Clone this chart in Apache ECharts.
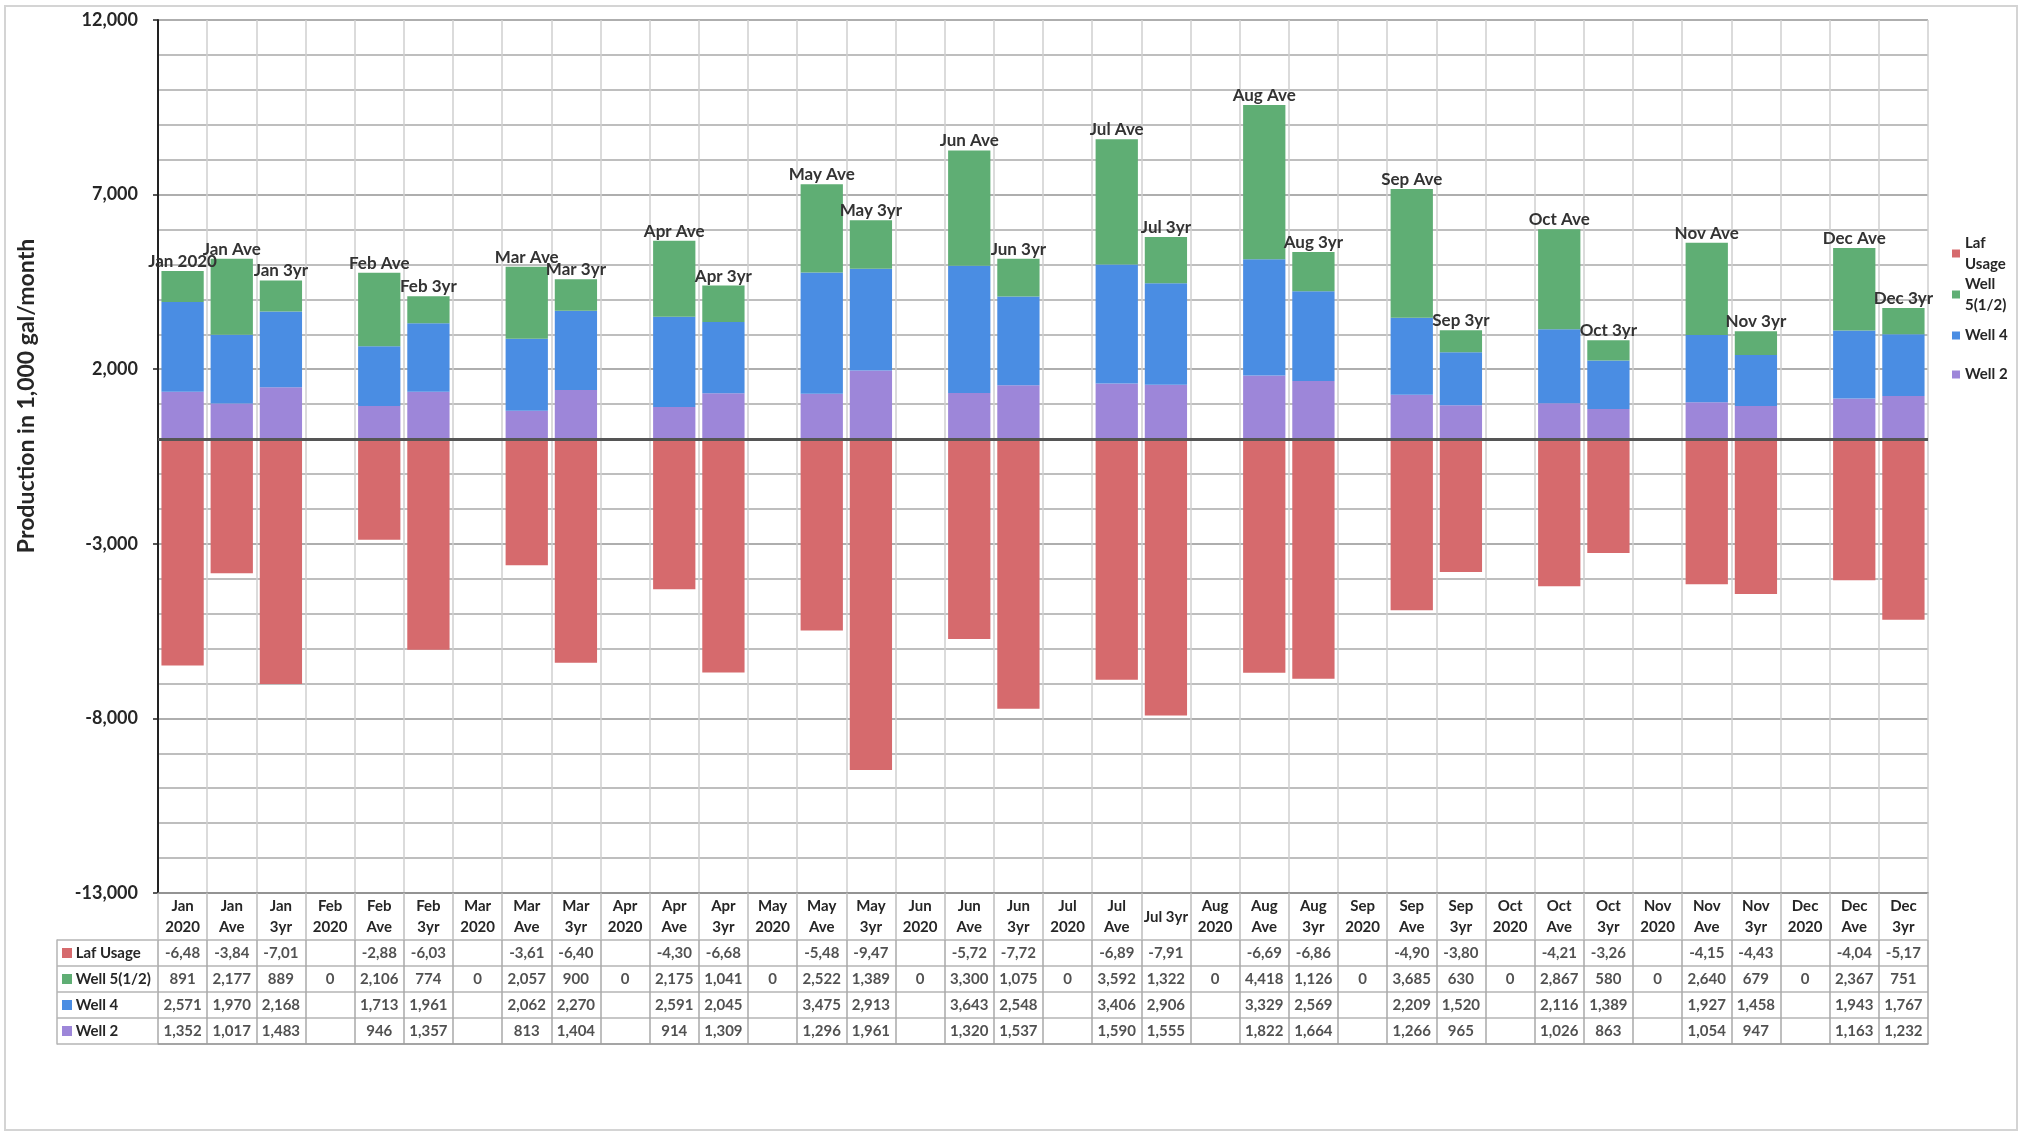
<!DOCTYPE html>
<html><head><meta charset="utf-8">
<script src="https://cdn.jsdelivr.net/npm/echarts@6.0.0/dist/echarts.min.js"></script>
<style>html,body{margin:0;padding:0;background:#fff}#c{width:2022px;height:1134px}</style>
</head><body><div id="c"></div>
<script>
const categories = ['Jan 2020','Jan Ave','Jan 3yr','Feb 2020','Feb Ave','Feb 3yr','Mar 2020','Mar Ave','Mar 3yr',
  'Apr 2020','Apr Ave','Apr 3yr','May 2020','May Ave','May 3yr','Jun 2020','Jun Ave','Jun 3yr',
  'Jul 2020','Jul Ave','Jul 3yr','Aug 2020','Aug Ave','Aug 3yr','Sep 2020','Sep Ave','Sep 3yr',
  'Oct 2020','Oct Ave','Oct 3yr','Nov 2020','Nov Ave','Nov 3yr','Dec 2020','Dec Ave','Dec 3yr'];
const headerLabels = ['Jan\n2020','Jan\nAve','Jan\n3yr','Feb\n2020','Feb\nAve','Feb\n3yr','Mar\n2020','Mar\nAve','Mar\n3yr',
  'Apr\n2020','Apr\nAve','Apr\n3yr','May\n2020','May\nAve','May\n3yr','Jun\n2020','Jun\nAve','Jun\n3yr',
  'Jul\n2020','Jul\nAve','Jul 3yr','Aug\n2020','Aug\nAve','Aug\n3yr','Sep\n2020','Sep\nAve','Sep\n3yr',
  'Oct\n2020','Oct\nAve','Oct\n3yr','Nov\n2020','Nov\nAve','Nov\n3yr','Dec\n2020','Dec\nAve','Dec\n3yr'];
const lafUsage = [-6485,-3845,-7015, null,-2885,-6035, null,-3615,-6405, null,-4305,-6685,
  null,-5485,-9475, null,-5725,-7725, null,-6895,-7915, null,-6695,-6865,
  null,-4905,-3805, null,-4215,-3265, null,-4155,-4435, null,-4045,-5175];
const well5 = [891,2177,889, 0,2106,774, 0,2057,900, 0,2175,1041,
  0,2522,1389, 0,3300,1075, 0,3592,1322, 0,4418,1126,
  0,3685,630, 0,2867,580, 0,2640,679, 0,2367,751];
const well4 = [2571,1970,2168, null,1713,1961, null,2062,2270, null,2591,2045,
  null,3475,2913, null,3643,2548, null,3406,2906, null,3329,2569,
  null,2209,1520, null,2116,1389, null,1927,1458, null,1943,1767];
const well2 = [1352,1017,1483, null,946,1357, null,813,1404, null,914,1309,
  null,1296,1961, null,1320,1537, null,1590,1555, null,1822,1664,
  null,1266,965, null,1026,863, null,1054,947, null,1163,1232];
const yLabelTicks = [-13000,-8000,-3000,2000,7000,12000];
const tableRows = ['Laf Usage','Well 5(1/2)','Well 4','Well 2'];

const C = { laf:'#d66a6d', w5:'#5fae74', w4:'#4a8de3', w2:'#9d86d9' };
const FONT = 'Lato';
const TXT = '#262626';
const fmtNum = v => (v == null || isNaN(v)) ? '' : Number(v).toLocaleString('en-US');
const fmtLaf = v => (v == null || isNaN(v)) ? '' : Number(v).toLocaleString('en-US').slice(0,5);
const tableData = [lafUsage, well5, well4, well2];
const tableFmt = [fmtLaf, fmtNum, fmtNum, fmtNum];

const chart = echarts.init(document.getElementById('c'));

const tableSeries = tableData.map((arr, r) => ({
  type:'scatter', name:'t'+r, xAxisIndex:1, yAxisIndex:1, silent:true,
  symbolSize:1, itemStyle:{color:'rgba(0,0,0,0)'},
  data: arr.map((v,i) => [i, r, v == null ? NaN : v]),
  label:{show:true, position:'inside', fontFamily:FONT, fontWeight:'bold', fontSize:15, color:TXT,
    formatter: p => tableFmt[r](p.value[2])}
}));

function legendFor(name, label, top, twoLine){
  return {
    data:[name], orient:'vertical', left:1952, top:top, padding:0,
    itemWidth:8, itemHeight:8, icon:'rect', selectedMode:false,
    formatter: () => label,
    textStyle:{fontFamily:FONT, fontWeight:'bold', fontSize:15, color:TXT, lineHeight:21,
      padding: twoLine ? [21,0,0,0] : 0}
  };
}

const option = {
  animation:false,
  textStyle:{fontFamily:FONT},
  graphic:[
    {type:'rect', z:-10, shape:{x:5, y:6, width:2012, height:1124}, style:{fill:'#fff', stroke:'#d4d4d4', lineWidth:2}},
    {type:'text', x:27, y:396, rotation:Math.PI/2,
      style:{text:'Production in 1,000 gal/month', fontFamily:FONT, fontWeight:'bold', fontSize:23,
        fill:TXT, align:'center', verticalAlign:'middle'}}
  ],
  legend:[
    legendFor('Laf Usage','Laf\nUsage', 222, true),
    legendFor('Well 5(1/2)','Well\n5(1/2)', 263, true),
    legendFor('Well 4','Well 4', 325, false),
    legendFor('Well 2','Well 2', 364, false)
  ],
  grid:[
    {left:158, width:1770, top:20, height:873},
    {left:158, width:1770, top:940, height:104}
  ],
  xAxis:[
    {type:'category', gridIndex:0, data:categories, position:'bottom',
      axisLine:{onZero:false, lineStyle:{color:'#8a8a8a', width:1.5}},
      axisTick:{show:true, interval:0, length:47, lineStyle:{color:'#bdbdbd', width:1.5}},
      axisLabel:{interval:0, margin:24, verticalAlign:'middle', fontFamily:FONT, fontWeight:'bold',
        fontSize:15, lineHeight:21, color:TXT, formatter:(v,i)=>headerLabels[i]},
      splitLine:{show:true, interval:0, lineStyle:{color:'#cfcfcf', width:1.5}}},
    {type:'category', gridIndex:1, data:categories,
      axisLine:{show:true, lineStyle:{color:'#9a9a9a', width:1.5}},
      axisTick:{show:false}, axisLabel:{show:false},
      splitLine:{show:true, interval:0, lineStyle:{color:'#a8a8a8', width:1.5}}}
  ],
  yAxis:[
    {type:'value', gridIndex:0, min:-13000, max:12000, interval:1000,
      axisLine:{show:true, lineStyle:{color:'#222', width:2}},
      axisTick:{show:true, length:5, customValues:yLabelTicks, lineStyle:{color:'#222', width:1.5}},
      axisLabel:{customValues:yLabelTicks, margin:20, fontFamily:FONT, fontWeight:'bold', fontSize:18, color:TXT,
        formatter:v=>Number(v).toLocaleString('en-US')},
      splitLine:{show:true, lineStyle:{color:'#a9a9a9', width:1.5}}},
    {type:'category', gridIndex:1, data:tableRows, inverse:true,
      axisLine:{show:false},
      axisTick:{show:true, length:101, lineStyle:{color:'#b5b5b5', width:1.5}},
      axisLabel:{margin:96, align:'left', fontFamily:FONT, fontWeight:'bold', fontSize:15, color:TXT,
        formatter:(v,i)=>['{a|}','{b|}','{c|}','{d|}'][i]+'{t| '+v+'}',
        rich:{a:{width:10,height:10,backgroundColor:C.laf}, b:{width:10,height:10,backgroundColor:C.w5},
          c:{width:10,height:10,backgroundColor:C.w4}, d:{width:10,height:10,backgroundColor:C.w2},
          t:{fontFamily:FONT, fontWeight:'bold', fontSize:15, color:TXT}}},
      splitLine:{show:true, interval:0, lineStyle:{color:'#b5b5b5', width:1.5}}},
    {type:'category', gridIndex:1, data:tableRows, inverse:true, position:'left', offset:101,
      axisLine:{show:true, lineStyle:{color:'#b5b5b5', width:1.5}},
      axisTick:{show:false}, axisLabel:{show:false}, splitLine:{show:false}},
    {type:'value', gridIndex:0, min:-13000, max:12000, interval:1000, position:'left',
      axisLine:{show:false}, axisTick:{show:false}, axisLabel:{show:false},
      splitLine:{show:true, lineStyle:{color:'#a9a9a9', width:1.5}}}
  ],
  series:[
    {name:'Well 2', type:'bar', stack:'total', data:well2, barCategoryGap:'14%', itemStyle:{color:C.w2}},
    {name:'Well 4', type:'bar', stack:'total', data:well4, barCategoryGap:'14%', itemStyle:{color:C.w4}},
    {name:'Well 5(1/2)', type:'bar', stack:'total', data:well5, barCategoryGap:'14%', itemStyle:{color:C.w5},
      label:{show:true, position:'top', distance:1, fontFamily:FONT, fontWeight:'bold', fontSize:17, color:'#333',
        formatter:p => ((well5[p.dataIndex]||0)+(well4[p.dataIndex]||0)+(well2[p.dataIndex]||0)) > 0 ? categories[p.dataIndex] : ''}},
    {name:'Laf Usage', type:'bar', stack:'total', data:lafUsage, barCategoryGap:'14%', itemStyle:{color:C.laf},
      markLine:{silent:true, symbol:'none', label:{show:false}, data:[{yAxis:0}],
        lineStyle:{color:'#555', width:3, type:'solid'}}},
    ...tableSeries
  ]
};
chart.setOption(option);
</script></body></html>
